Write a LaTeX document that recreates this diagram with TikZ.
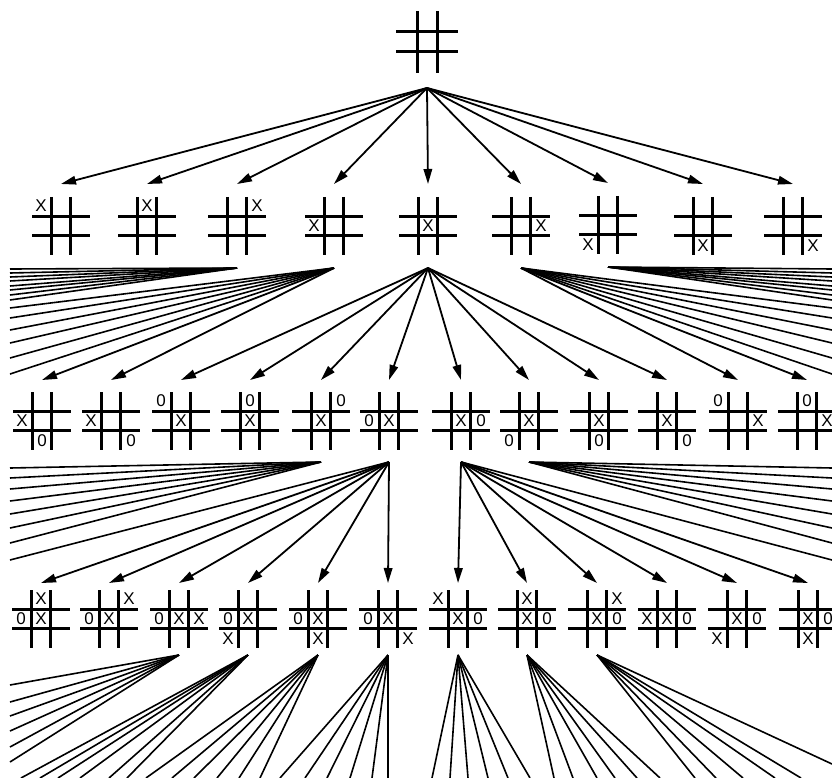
\documentclass[tikz,border=0pt]{standalone}
\usepackage{fontspec}
\setmainfont{Liberation Sans}
\usetikzlibrary{arrows.meta,calc}
\tikzset{
  gridline/.style={line width=3pt},
  mk/.style={font=\fontsize{17}{17}\selectfont, inner sep=0pt},
  arr/.style={line width=1.8pt, -{Triangle[length=15pt,width=8.5pt]}},
  fan/.style={line width=1.6pt},
  bnode/.style={minimum width=60pt, inner sep=0pt, outer sep=0pt},
}
\newcommand\tttboard[4]{%
  \node[bnode, minimum height=#3pt] (#1) at (#2) {};
  \begin{scope}[shift={(#2)}]
    \draw[gridline] (-9.5,-29) -- (-9.5,29) (9.5,-29) -- (9.5,29)
                    (-29,-9.5) -- (29,-9.5) (-29,9.5) -- (29,9.5);
    \foreach \c/\r/\m in {#4} { \node[mk] at (20*\c,20*\r) {\m}; }
  \end{scope}}
\begin{document}
\begin{tikzpicture}[x=1pt,y=-1pt]
\useasboundingbox (0,0) rectangle (832,778);
\clip (0,0) rectangle (832,778);
% root
\node[bnode, minimum height=92pt] (root) at (427,42) {};
\draw[line width=3pt] (417,11) -- (417,73) (437,11) -- (437,73) (396,32) -- (458,32) (396,52) -- (458,52);
% level 1
\tttboard{a1}{61,226}{84}{-1/-1/X}
\tttboard{a2}{147,226}{84}{0/-1/X}
\tttboard{a3}{237,226}{84}{1/-1/X}
\tttboard{a4}{334,226}{84}{-1/0/X}
\tttboard{a5}{428,226}{84}{0/0/X}
\tttboard{a6}{521,226}{84}{1/0/X}
\tttboard{a7}{608,225}{84}{-1/1/X}
\tttboard{a8}{703,226}{84}{0/1/X}
\tttboard{a9}{793,226}{84}{1/1/X}
% level 2
\tttboard{b1}{42,421}{82}{-1/0/X,0/1/0}
\tttboard{b2}{111,421}{82}{-1/0/X,1/1/0}
\tttboard{b3}{181,421}{82}{-1/-1/0,0/0/X}
\tttboard{b4}{250,421}{82}{0/-1/0,0/0/X}
\tttboard{b5}{321,421}{82}{0/0/X,1/-1/0}
\tttboard{b6}{389,421}{82}{-1/0/0,0/0/X}
\tttboard{b7}{461,421}{82}{0/0/X,1/0/0}
\tttboard{b8}{529,421}{82}{0/0/X,-1/1/0}
\tttboard{b9}{599,421}{82}{0/0/X,0/1/0}
\tttboard{b10}{667,421}{82}{0/0/X,1/1/0}
\tttboard{b11}{738,421}{82}{-1/-1/0,1/0/X}
\tttboard{b12}{807,421}{82}{0/-1/0,1/0/X}
% level 3
\tttboard{c1}{41,619}{72}{0/-1/X,-1/0/0,0/0/X}
\tttboard{c2}{109,619}{72}{1/-1/X,-1/0/0,0/0/X}
\tttboard{c3}{179,619}{72}{-1/0/0,0/0/X,1/0/X}
\tttboard{c4}{248,619}{72}{-1/0/0,0/0/X,-1/1/X}
\tttboard{c5}{318,619}{72}{-1/0/0,0/0/X,0/1/X}
\tttboard{c6}{388,619}{72}{-1/0/0,0/0/X,1/1/X}
\tttboard{c7}{458,619}{72}{-1/-1/X,0/0/X,1/0/0}
\tttboard{c8}{527,619}{72}{0/-1/X,0/0/X,1/0/0}
\tttboard{c9}{597,619}{72}{1/-1/X,0/0/X,1/0/0}
\tttboard{c10}{667,619}{72}{-1/0/X,0/0/X,1/0/0}
\tttboard{c11}{737,619}{72}{0/0/X,1/0/0,-1/1/X}
\tttboard{c12}{808,619}{72}{0/0/X,1/0/0,0/1/X}
% root -> level 1
\foreach \n in {a1,a2,a3,a4,a5,a6,a7,a8,a9} { \draw[arr] (root.south) -- (\n.north); }
% level 1 -> level 2
\foreach \y [count=\i] in {269,273,277,281,286,290,295,300} {
  \coordinate (pa\i) at (10,\y); \draw[fan] (a3.south) -- (pa\i);
  \coordinate (qa\i) at (832,\y); \draw[fan] (a7.south) -- (qa\i); }
\foreach \y [count=\i] in {308,318,330,343,358,374} {
  \coordinate (pb\i) at (10,\y); \draw[fan] (a4.south) -- (pb\i);
  \coordinate (qb\i) at (832,\y); \draw[fan] (a6.south) -- (qb\i); }
\foreach \n in {b1,b2} { \draw[arr] (a4.south) -- (\n.north); }
\foreach \n in {b3,b4,b5,b6,b7,b8,b9,b10} { \draw[arr] (a5.south) -- (\n.north); }
\foreach \n in {b11,b12} { \draw[arr] (a6.south) -- (\n.north); }
% level 2 -> level 3
\foreach \y [count=\i] in {468,478,489,501,514,528,543} {
  \coordinate (pc\i) at (10,\y); \draw[fan] (b5.south) -- (pc\i);
  \coordinate (qc\i) at (832,\y); \draw[fan] (b8.south) -- (qc\i); }
\coordinate (pd) at (10,560); \draw[fan] (b6.south) -- (pd);
\coordinate (qd) at (832,560); \draw[fan] (b7.south) -- (qd);
\foreach \n in {c1,c2,c3,c4,c5,c6} { \draw[arr] (b6.south) -- (\n.north); }
\foreach \n in {c7,c8,c9,c10,c11,c12} { \draw[arr] (b7.south) -- (\n.north); }
% level 3 -> level 4
\foreach \y [count=\i] in {685,702,716,731,747,762} { \coordinate (r3\i) at (10,\y); \draw[fan] (c3.south) -- (r3\i); }
\foreach \x [count=\i] in {21,40,58,80,109,127} { \coordinate (r4\i) at (\x,778); \draw[fan] (c4.south) -- (r4\i); }
\foreach \x [count=\i] in {146,172,194,217,239,260} { \coordinate (r5\i) at (\x,778); \draw[fan] (c5.south) -- (r5\i); }
\foreach \x [count=\i] in {280,305,327,350,372,388} { \coordinate (r6\i) at (\x,778); \draw[fan] (c6.south) -- (r6\i); }
\foreach \x [count=\i] in {432,450,468,488,508,530} { \coordinate (r7\i) at (\x,778); \draw[fan] (c7.south) -- (r7\i); }
\foreach \x [count=\i] in {554,573,597,615,637,660} { \coordinate (r8\i) at (\x,778); \draw[fan] (c8.south) -- (r8\i); }
\foreach \x [count=\i] in {695,716,743,775,801} { \coordinate (r9\i) at (\x,778); \draw[fan] (c9.south) -- (r9\i); }
\coordinate (r96) at (832,764); \draw[fan] (c9.south) -- (r96);
\end{tikzpicture}
\end{document}
